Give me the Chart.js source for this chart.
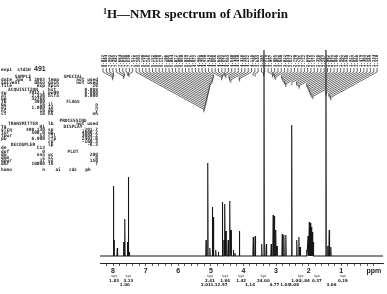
<!DOCTYPE html>
<html><head><meta charset="utf-8">
<script src="https://cdn.jsdelivr.net/npm/chart.js@4/dist/chart.umd.min.js"></script>
<style>
html,body{margin:0;padding:0;background:#fff;}
#wrap{position:relative;width:387px;height:294px;overflow:hidden;background:#fff;}
#title{position:absolute;left:103px;top:6px;font:bold 13px "Liberation Serif","Times New Roman",serif;color:#111;white-space:nowrap;line-height:16px;}
#title sup{font-size:8px;vertical-align:top;position:relative;top:-2px;}
canvas{position:absolute;left:0;top:0;}
</style></head><body>
<div id="wrap"><canvas id="c" width="387" height="294"></canvas><div id="title"><sup>1</sup>H—NMR spectrum of Albiflorin</div></div>
<script>
// ---- data ----
const peakPpm = [7.99,7.97,7.87,7.68,7.64,7.56,7.53,7.50,
  5.147,5.095,5.03,4.954,4.92,4.85,4.77,4.647,4.60,4.57,4.535,4.47,4.42,4.38,4.31,4.26,4.125,
  3.70,3.64,3.44,3.37,3.30,3.15,3.09,3.05,3.01,2.97,2.81,2.76,2.70,2.52,
  2.365,2.30,2.26,2.06,2.02,1.98,1.95,1.92,1.89,1.86,1.47,1.42,1.37,1.32];
const peakHeight = [70,16,8,14,37,14,79,4,
  16,93,8,49,39,6,4,54,16,52,25,16,55,26,6,3,25,
  19,20,12,206,12,12,41,40,26,10,22,21,21,131,
  16,19,9,6,20,34,33,29,24,14,206,10,26,9];
const majorTicks = [8,7,6,5,4,3,2,1,0];
const tickLabels = ['8','7','6','5','4','3','2','1','ppm'];
const fanPpm = [8.012,8.004,7.993,7.985,7.682,7.664,7.645,7.548,7.530,7.511,
  5.215,5.203,5.190,5.178,5.165,5.152,5.140,5.128,5.117,5.106,5.095,5.084,5.072,5.061,5.050,5.039,5.027,5.015,
  4.972,4.961,4.950,4.930,4.919,
  4.668,4.656,4.645,4.603,4.575,4.563,4.540,
  4.448,4.430,4.418,4.385,
  4.132,4.118,3.705,3.643,3.385,3.371,
  3.112,3.097,3.085,3.052,3.040,3.012,
  2.834,2.812,2.790,2.762,2.741,2.712,2.699,
  2.515,2.372,2.358,2.305,2.287,
  2.062,2.041,2.022,1.998,1.981,1.962,1.948,1.921,1.897,1.868,
  1.479,1.463,1.382,1.369,1.334,1.320];
const integralPpm1 = [7.97,7.53,5.03,4.56,4.07,3.39,2.25,1.75,0.95];
const integralText1 = ['1.83','3.13','2.41','1.84','1.42','24.00','1.00|.84','0.37','0.19'];
const integralPpm2 = [7.64,5.15,4.75,3.80,3.05,2.72,2.45,1.30];
const integralText2 = ['1.00','2.01','1.12.57','1.14','4.77','1.03','3.08','3.06'];
const paramsLeft = [['SAMPLE'],['date','Jan  5 2003'],['solvent','dmso'],['file','exp'],['ACQUISITION'],
  ['sw','7012.1'],['at','2.336'],['np','32768'],['fb','3900'],['bs','16'],['d1','1.000'],['nt','16'],['ct','16'],
  [],[],['TRANSMITTER'],['tn','H1'],['sfrq','400.130'],['tof','500.0'],['tpwr','53'],['pw','6.000'],[],
  ['DECOUPLER'],['dn','C13'],['dof','0'],['dm','nnn'],['dmm','c'],['dpwr','37'],['dmf','10000'],[],['homo','n']];
const paramsRight = [['SPECIAL'],['temp','not used'],['gain','not used'],['spin','20'],['hst','0.008'],
  ['pw90','6.000'],['alfa','6.000'],[],['FLAGS'],['il','n'],['in','n'],['dp','y'],['hs','nn'],[],
  ['PROCESSING'],['lb','not used'],['DISPLAY'],['sp','-201.7'],['wp','4000.2'],['rfl','3004.2'],['rfp','2403.6'],
  ['rp','-160.3'],['lp','-8.3'],[],['PLOT'],['wc','200'],['sc','0'],['vs','150'],['th','7'],[],['ai   cdc   ph']];
const headerText = 'exp1  std1H';
const noteText = '491';

// ---- build spectrum ----
const xMin = -0.28, xMax = 8.40;
const pts = [{x:xMax,y:0}];
peakPpm.map((p,i)=>({p,h:peakHeight[i]})).sort((a,b)=>b.p-a.p).forEach(o=>{
  pts.push({x:o.p+0.01,y:0},{x:o.p,y:o.h},{x:o.p-0.01,y:0});
});
pts.push({x:xMin,y:0});
const tickVals = [];
for (let v = 8.2; v >= -0.001; v -= 0.2) tickVals.push(Math.round(v*10)/10);

const extras = {
  id:'extras',
  afterDraw(chart){
    const ctx = chart.ctx, xs = chart.scales.x, ca = chart.chartArea;
    ctx.save();
    // peak label fan
    const N = fanPpm.length, L = ca.left+3, R = ca.right-6;
    ctx.fillStyle = '#222'; ctx.strokeStyle = '#2a2a2a'; ctx.lineWidth = 0.7;
    ctx.font = 'bold 4px "DejaVu Sans Mono"';
    for (let i=0;i<N;i++){
      const lx = L + i*(R-L)/(N-1);
      const px = xs.getPixelForValue(fanPpm[i]);
      ctx.save(); ctx.translate(lx, 67); ctx.rotate(-Math.PI/2);
      ctx.textBaseline='middle'; ctx.textAlign='left';
      ctx.fillText(fanPpm[i].toFixed(3),0,0); ctx.restore();
      const yEnd = 72 + 0.55*Math.abs(px-lx);
      ctx.beginPath(); ctx.moveTo(lx,68); ctx.lineTo(lx,72); ctx.lineTo(px,yEnd); ctx.lineTo(px,yEnd+3); ctx.stroke();
    }
    // integrals
    ctx.fillStyle = '#222'; ctx.textAlign='center'; ctx.textBaseline='middle';
    ctx.font = '3px "DejaVu Sans"';
    integralPpm1.forEach(p=>ctx.fillText('Sgd', xs.getPixelForValue(p), 276.5));
    ctx.font = 'bold 4px "DejaVu Sans"';
    integralPpm1.forEach((p,i)=>ctx.fillText(integralText1[i], xs.getPixelForValue(p), 280.5));
    integralPpm2.forEach((p,i)=>ctx.fillText(integralText2[i], xs.getPixelForValue(p), 284.5));
    // parameter block
    ctx.textBaseline='middle';
    ctx.font = 'bold 7px "Liberation Sans"'; ctx.textAlign='left';
    ctx.fillText(noteText, 34, 69);
    ctx.font = 'bold 4.5px "DejaVu Sans Mono"';
    ctx.fillText(headerText, 1, 70);
    const drawCol = (rows, x0, x1) => {
      rows.forEach((r,i)=>{
        const y = 77 + i*3.1;
        if (r.length===1){ ctx.textAlign='center'; ctx.fillText(r[0], (x0+x1)/2, y); }
        else if (r.length===2){ ctx.textAlign='left'; ctx.fillText(r[0], x0, y); ctx.textAlign='right'; ctx.fillText(r[1], x1, y); }
      });
    };
    drawCol(paramsLeft, 1, 45);
    drawCol(paramsRight, 48, 98);
    ctx.restore();
  }
};

new Chart(document.getElementById('c'), {
  type:'scatter',
  data:{datasets:[{data:pts, showLine:true, pointRadius:0, borderColor:'#151515', borderWidth:1.1, tension:0}]},
  options:{
    responsive:false, animation:false, devicePixelRatio:1,
    layout:{padding:{left:100,right:4,top:50,bottom:0}},
    plugins:{legend:{display:false}, tooltip:{enabled:false}},
    scales:{
      x:{type:'linear', reverse:true, min:xMin, max:xMax,
        afterBuildTicks:s=>{ s.ticks = tickVals.map(v=>({value:v})); },
        afterFit:s=>{ s.height = 31; },
        grid:{drawOnChartArea:false, drawTicks:true, tickLength:3, color:'#333', lineWidth:0.8},
        border:{display:true, color:'#222', width:1},
        ticks:{autoSkip:false, maxRotation:0, padding:1, color:'#222',
          font:{family:'Liberation Sans', size:7, weight:'bold'},
          callback:(v)=>{ const k = majorTicks.findIndex(m=>Math.abs(m-v)<1e-6); return k>=0 ? tickLabels[k] : ''; }}
      },
      y:{display:false, min:-7, max:206}
    }
  },
  plugins:[extras]
});
</script>
</body></html>
